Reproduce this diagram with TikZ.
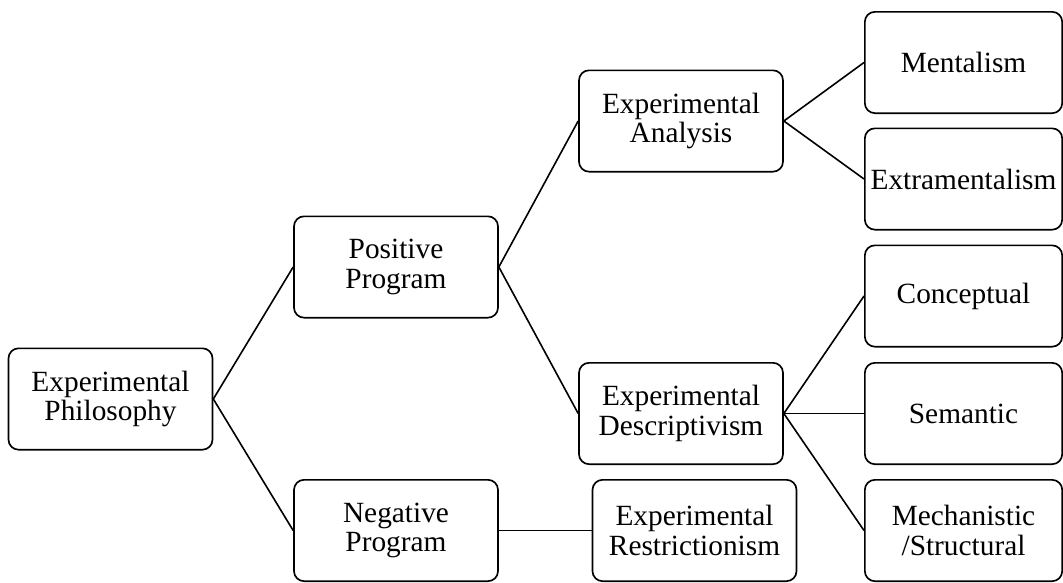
\documentclass[tikz,border=0pt]{standalone}
\usepackage{fontspec}
\setmainfont{Liberation Serif}
\begin{document}
\begin{tikzpicture}[x=0.75pt,y=-0.75pt,
  box/.style={draw, line width=1.25pt, rounded corners=7.5pt, align=center,
    minimum width=153pt, minimum height=76pt, inner sep=0pt,
    font=\fontsize{22}{22}\selectfont},
  rbox/.style={box, minimum width=148pt},
  link/.style={line width=1.2pt}]
\useasboundingbox (0,0) rectangle (1063,582);
\node[box] (ep) at (110.5,399) {Experimental\\Philosophy};
\node[box] (pp) at (396,267) {Positive\\Program};
\node[box] (np) at (396,530.5) {Negative\\Program};
\node[box] (ea) at (681,121) {Experimental\\Analysis};
\node[box] (ed) at (681,413.5) {Experimental\\Descriptivism};
\node[box] (er) at (694.5,530.5) {Experimental\\Restrictionism};
\node[rbox] (m1) at (963.5,62.5) {Mentalism};
\node[rbox] (m2) at (963.5,179) {Extramentalism};
\node[rbox] (c1) at (963.5,296) {Conceptual};
\node[rbox] (c2) at (963.5,413.5) {Semantic};
\node[rbox] (c3) at (963.5,530.5) {Mechanistic\\/Structural};
\draw[link] (ep.east) -- (pp.west);
\draw[link] (ep.east) -- (np.west);
\draw[link] (pp.east) -- (ea.west);
\draw[link] (pp.east) -- (ed.west);
\draw[link] (np.east) -- (er.west);
\draw[link] (ea.east) -- (m1.west);
\draw[link] (ea.east) -- (m2.west);
\draw[link] (ed.east) -- (c1.west);
\draw[link] (ed.east) -- (c2.west);
\draw[link] (ed.east) -- (c3.west);
\end{tikzpicture}
\end{document}
